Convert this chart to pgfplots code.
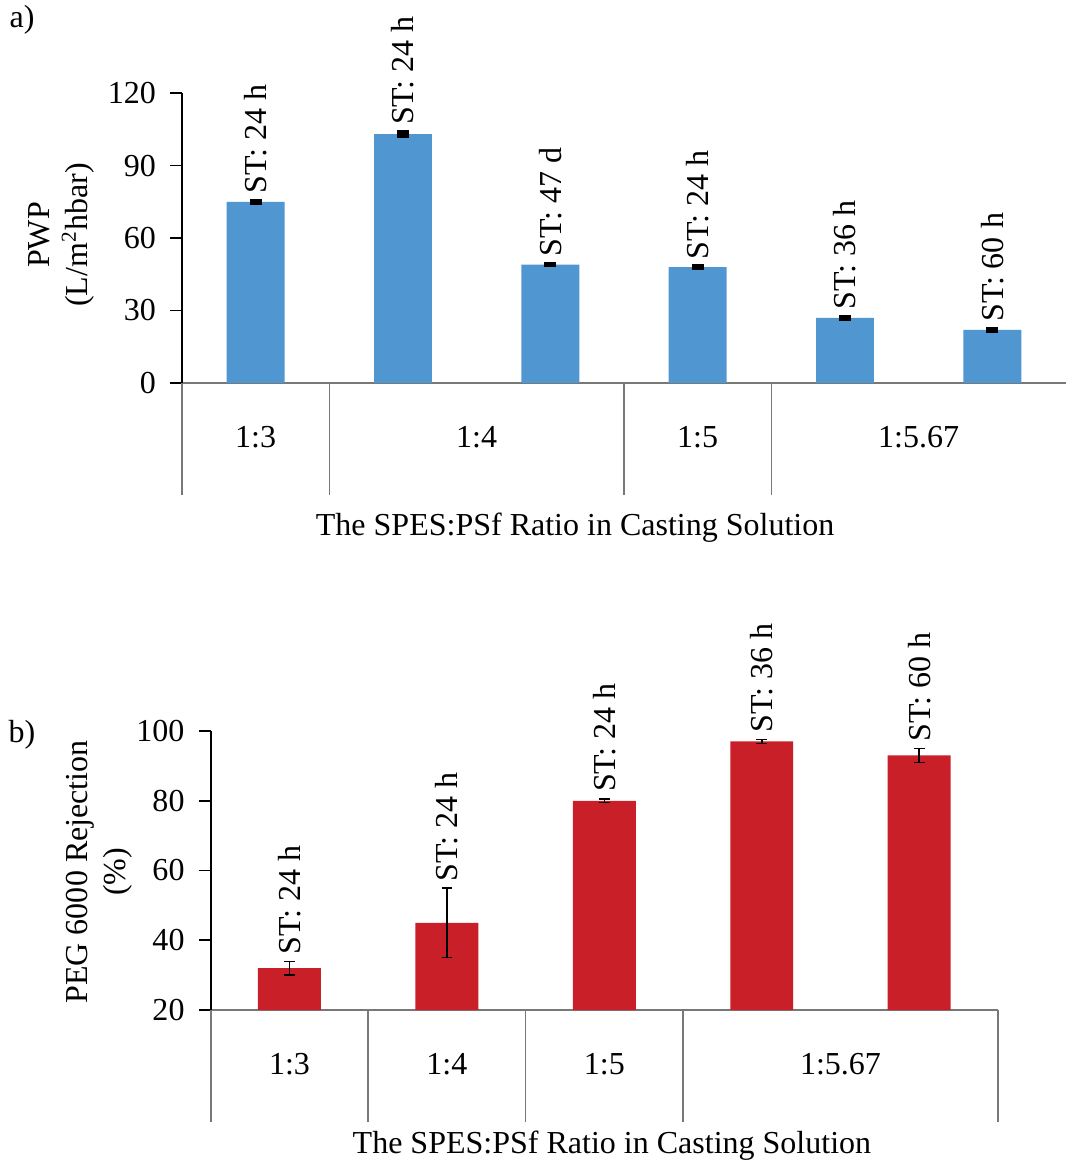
\documentclass[border=0pt]{standalone}
\usepackage{fontspec}
\setmainfont{Liberation Serif}
\usepackage{pgfplots}
\pgfplotsset{compat=1.18}
\definecolor{barblue}{RGB}{80,151,209}
\definecolor{barred}{RGB}{201,31,40}
\definecolor{axgray}{RGB}{120,120,120}
\newcommand{\ff}{\fontsize{12}{14.2}\selectfont}
\pgfplotsset{
  common/.style={
    scale only axis, anchor=south west, clip=false,
    axis x line=bottom, axis y line=left, axis line style={-},
    x axis line style={axgray, line width=0.6pt},
    y axis line style={black, line width=0.6pt},
    ytick align=outside, major tick length=4.5pt,
    ytick style={black, line width=0.6pt},
    xtick style={draw=none},
    xticklabel style={anchor=center, yshift=-18pt},
    yticklabel style={xshift=-1.8pt},
    tick label style={font=\ff},
    /pgf/number format/assume math mode=true,
    extra x tick labels={},
    extra x tick style={xtick style={draw=axgray, line width=0.6pt}, major tick length=42pt, xtick align=outside},
  }
}
\begin{document}
\begin{tikzpicture}[font=\ff]
\useasboundingbox (0,0) rectangle (400pt,436.36pt);
% ---------- a) ----------
\begin{axis}[common,
  at={(68.23pt,292.78pt)}, width=331.4pt, height=108.7pt,
  xmin=-0.5, xmax=5.5, ymin=0, ymax=120,
  ytick={0,30,60,90,120},
  xtick={0,1.5,3,4.5}, xticklabels={1:3,1:4,1:5,1:5.67},
  extra x ticks={-0.5,0.5,2.5,3.5},
]
\addplot[ybar, bar width=21.7pt, fill=barblue, draw=none,
  error bars/.cd, y dir=both, y explicit,
  error bar style={black, line width=0.8pt},
  error mark options={rotate=90, mark size=2.2pt, line width=1.4pt, black}]
  coordinates {(0,75)+-(0,0.5) (1,103)+-(0,0.8) (2,49)+-(0,0.4) (3,48)+-(0,0.3) (4,27)+-(0,0.4) (5,22)+-(0,0.4)};
\addplot[draw=none, mark=none, nodes near coords, point meta=explicit symbolic,
  nodes near coords style={rotate=90, anchor=west, font=\ff, inner sep=2.5pt, black}]
  coordinates {(0,75.5)[ST: 24 h] (1,103.8)[ST: 24 h] (2,49.4)[ST: 47 d] (3,48.3)[ST: 24 h] (4,27.4)[ST: 36 h] (5,22.4)[ST: 60 h]};
\end{axis}
% ---------- b) ----------
\begin{axis}[common,
  at={(79.0pt,57.73pt)}, width=295.1pt, height=104.6pt,
  xmin=-0.5, xmax=4.5, ymin=20, ymax=100,
  ytick={20,40,60,80,100},
  xtick={0,1,2,3.5}, xticklabels={1:3,1:4,1:5,1:5.67},
  extra x ticks={-0.5,0.5,1.5,2.5,4.5},
]
\addplot[ybar, bar width=23.6pt, fill=barred, draw=none,
  error bars/.cd, y dir=both, y explicit,
  error bar style={black, line width=0.6pt},
  error mark options={rotate=90, mark size=2pt, line width=0.6pt, black}]
  coordinates {(0,32)+-(0,1.9) (1,45)+-(0,9.9) (2,80)+-(0,0.5) (3,97)+-(0,0.6) (4,93)+-(0,2.0)};
\addplot[draw=none, mark=none, nodes near coords, point meta=explicit symbolic,
  nodes near coords style={rotate=90, anchor=west, font=\ff, inner sep=2.5pt, black}]
  coordinates {(0,33.9)[ST: 24 h] (1,54.9)[ST: 24 h] (2,80.5)[ST: 24 h] (3,97.6)[ST: 36 h] (4,95)[ST: 60 h]};
\end{axis}
% ---------- labels ----------
\node at (8.25pt,428.9pt) {a)};
\node at (8.25pt,160.8pt) {b)};
\node[rotate=90, align=center] at (23.05pt,348.3pt) {PWP\\(L/m\textsuperscript{2}hbar)};
\node[rotate=90, align=center] at (37.1pt,109.5pt) {PEG 6000 Rejection\\(\%)};
\node at (215.6pt,238.4pt) {The SPES:PSf Ratio in Casting Solution};
\node at (229.4pt,6.75pt) {The SPES:PSf Ratio in Casting Solution};
\end{tikzpicture}
\end{document}
